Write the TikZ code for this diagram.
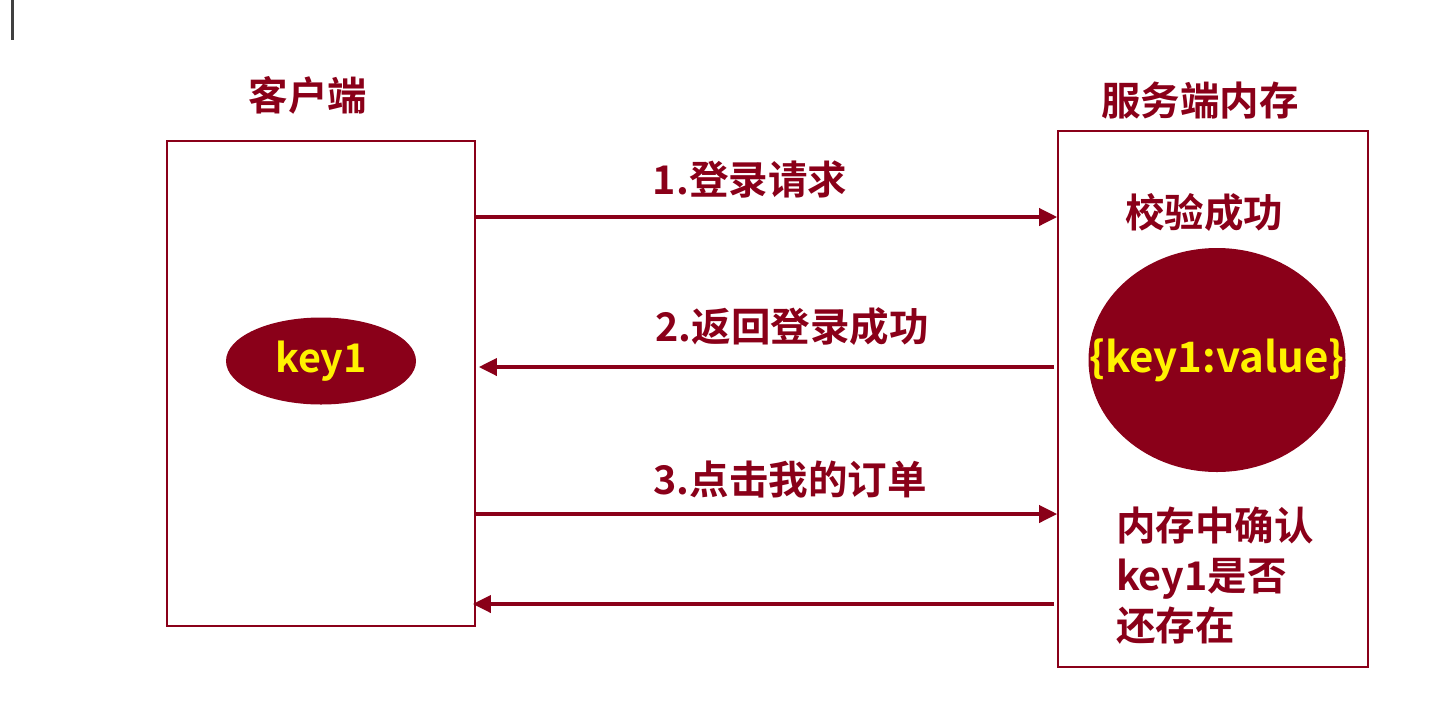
\documentclass[tikz,border=0pt]{standalone}
\usepackage{fontspec}
\setmainfont{Noto Sans CJK SC Bold}
\usetikzlibrary{positioning,arrows.meta,shapes.geometric}
\definecolor{wine}{HTML}{8A0019}
\definecolor{keyyellow}{HTML}{FFF200}

\begin{document}
\begin{tikzpicture}[
                    x=1pt, y=-1pt,
                    box/.style={draw=wine, line width=1.6pt, minimum width=308pt, inner sep=0pt},
                    title/.style={text=wine, font=\fontsize{39.5}{46}\selectfont, inner sep=0pt},
                    keynode/.style={ellipse, fill=wine, text=keyyellow, inner sep=0pt, font=\fontsize{39.5}{46}\selectfont},
                    msg/.style={-{Triangle[length=18pt,width=17pt]}, wine, line width=3.6pt}
                ]
                    \useasboundingbox (0,0) rectangle (1448,705);
                    \draw[darkgray, line width=2.4pt] (12.5,0) -- (12.5,40);

                    % Boxes
                    \node[box, minimum height=485pt] (client) at (321,383.5) {};
                    \node[box, minimum height=536pt, minimum width=310pt] (server) at (1213,399) {};
                    \node[title] (clienttitle) at (308,95) {客户端};
                    \node[title] (servertitle) at (1200,101) {服务端内存};

                    % Keys
                    \node[keynode, minimum width=190pt, minimum height=87pt] (key) at (321,361) {key1};
                    \node[keynode, minimum width=257pt, minimum height=224pt] (store) at (1217,360) {};
                    \node[text=keyyellow, inner sep=0pt, font=\fontsize{42}{46}\selectfont] (storetext) at (store) {\{key1:value\}};
                    \node[title] (check) at (1204,213) {校验成功};
                    \node[title, align=left, font=\fontsize{39.5}{50}\selectfont, anchor=north west] (confirm) at (1116,507) {内存中确认\\key1是否\\还存在};

                    % Messages
                    \coordinate (row1) at (0,217);
                    \coordinate (row2) at (0,367);
                    \coordinate (row3) at (0,514);
                    \coordinate (row4) at (0,604);
                    \draw[msg] (client.east |- row1) -- (server.west |- row1);
                    \draw[msg] ([xshift=-3pt]server.west |- row2) -- ([xshift=3pt]client.east |- row2);
                    \draw[msg] (client.east |- row3) -- (server.west |- row3);
                    \draw[msg] ([xshift=-3pt]server.west |- row4) -- ([xshift=-3pt]client.east |- row4);
                    \node[title] (m1) at (750,180) {1.登录请求};
                    \node[title] (m2) at (792,327) {2.返回登录成功};
                    \node[title] (m3) at (790,480) {3.点击我的订单};
                \end{tikzpicture}
\end{document}
